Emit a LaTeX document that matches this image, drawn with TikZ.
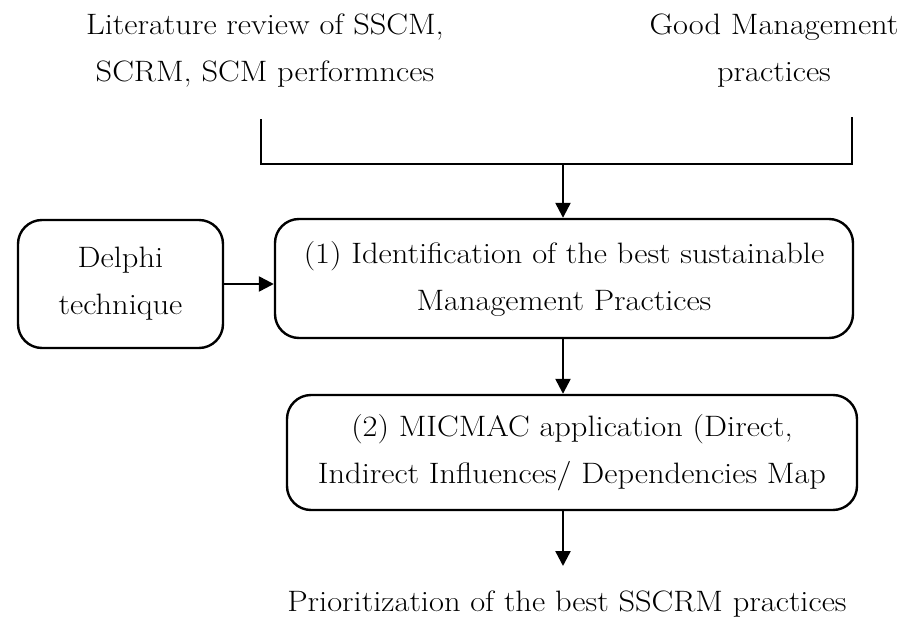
\documentclass[tikz,border=0pt]{standalone}
\usepackage{fontspec}
\setmainfont{Latin Modern Roman}[FakeStretch=1.1]
\usetikzlibrary{arrows.meta}
\begin{document}
\begin{tikzpicture}[x=1pt,y=-1pt,
  txt/.style={font=\fontsize{29.5}{47}\selectfont, align=center, inner sep=0pt},
  rbox/.style={draw, line width=2.4pt, rounded corners=24pt},
  conn/.style={line width=2.4pt},
  arr/.style={line width=2.4pt, -{Triangle[length=15pt,width=15pt]}}]
\useasboundingbox (0,0) rectangle (906,621);
% top texts
\node[txt] (lit) at (265,51) {Literature review of SSCM,\\SCRM, SCM performnces};
\node[txt] (good) at (774,51) {Good Management\\practices};
% bracket
\coordinate (bl) at (261,119);
\coordinate (br) at (852,117);
\coordinate (bm) at (563,164);
\draw[conn] (bl) |- (bm) -| (br);
% boxes
\node[rbox, minimum width=205pt, minimum height=128pt] (delphi) at (120.5,284) {};
\node[txt] at (delphi) {Delphi\\technique};
\node[rbox, minimum width=578pt, minimum height=119pt] (b1) at (564,278.5) {};
\node[txt] at (b1) {(1) Identification of the best sustainable\\Management Practices};
\node[rbox, minimum width=570pt, minimum height=115pt] (b2) at (572,452.5) {};
\node[txt] at (b2) {(2) MICMAC application (Direct,\\Indirect Influences/ Dependencies Map};
\node[txt] (prio) at (567,604) {Prioritization of the best SSCRM practices};
% arrows
\draw[arr] (bm) -- (bm |- b1.north);
\draw[arr] (delphi.east) -- (delphi.east -| b1.west);
\draw[arr] (b1.south -| bm) -- (b2.north -| bm);
\coordinate (ae) at (563,566);
\draw[arr] (b2.south -| bm) -- (ae);
\end{tikzpicture}
\end{document}
